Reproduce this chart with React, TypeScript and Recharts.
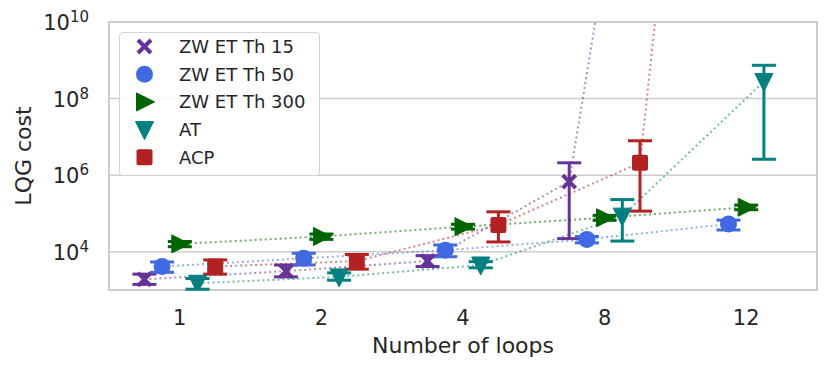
import {
  LineChart,
  Line,
  XAxis,
  YAxis,
  CartesianGrid,
  ErrorBar,
  ReferenceArea,
  Legend,
} from 'recharts'

const categories = ['1', '2', '4', '8', '12']

// mean, lower and upper bound per loop count
const zw15 = [1.9e3, 3.1e3, 5.7e3, 6.8e5, 3e28]
const zw15Low = [1.4e3, 2.2e3, 4.1e3, 2.2e4, 3e28]
const zw15High = [2.6e3, 4.5e3, 7.9e3, 2.1e6, 3e28]

const zw50 = [4.1e3, 6.7e3, 1.1e4, 2.1e4, 5.3e4]
const zw50Low = [2.9e3, 4.5e3, 7.4e3, 1.7e4, 3.7e4]
const zw50High = [5.4e3, 9.1e3, 1.5e4, 2.5e4, 6.7e4]

const zw300 = [1.6e4, 2.5e4, 4.5e4, 7.7e4, 1.45e5]
const zw300Low = [1.35e4, 2.1e4, 3.9e4, 6.6e4, 1.25e5]
const zw300High = [1.85e4, 2.9e4, 5.2e4, 8.9e4, 1.65e5]

const at = [1.5e3, 2.2e3, 4.5e3, 8.5e4, 2.8e8]
const atLow = [1.05e3, 1.8e3, 3.8e3, 1.9e4, 2.6e6]
const atHigh = [2.0e3, 2.8e3, 5.5e3, 2.3e5, 7.4e8]

const acp = [4.1e3, 5.7e3, 5e4, 2.1e6, 1e41]
const acpLow = [2.6e3, 3.5e3, 1.8e4, 1.15e5, 1e41]
const acpHigh = [6.1e3, 8.5e3, 1.1e5, 7.9e6, 1e41]

const yTicks = [1e4, 1e6, 1e8, 1e10]

const FONT = '"DejaVu Sans", sans-serif'
const TEXT = '#262626'
const DODGE = 0.125

const rows = (vals: number[], lows: number[], highs: number[], slot: number) =>
  vals.map((v, i) => ({
    x: i + (slot - 2) * DODGE,
    y: v,
    err: [v - lows[i], highs[i] - v],
  }))

const series = [
  { name: 'ZW ET Th 15', kind: 'x', color: '#663399', data: rows(zw15, zw15Low, zw15High, 0) },
  { name: 'ZW ET Th 50', kind: 'o', color: '#4169e1', data: rows(zw50, zw50Low, zw50High, 1) },
  { name: 'ZW ET Th 300', kind: '>', color: '#006400', data: rows(zw300, zw300Low, zw300High, 2) },
  { name: 'AT', kind: 'v', color: '#008080', data: rows(at, atLow, atHigh, 3) },
  { name: 'ACP', kind: 's', color: '#b22222', data: rows(acp, acpLow, acpHigh, 4) },
]

function Marker({ kind, cx, cy, color }: any) {
  if (cx == null || cy == null || !isFinite(cy)) return null
  if (kind === 'x')
    return (
      <g stroke={color} strokeWidth={4}>
        <line x1={cx - 6.5} y1={cy - 6.5} x2={cx + 6.5} y2={cy + 6.5} />
        <line x1={cx - 6.5} y1={cy + 6.5} x2={cx + 6.5} y2={cy - 6.5} />
      </g>
    )
  if (kind === 'o') return <circle cx={cx} cy={cy} r={8.5} fill={color} />
  if (kind === '>')
    return (
      <polygon
        points={`${cx - 8},${cy - 9} ${cx + 10},${cy} ${cx - 8},${cy + 9}`}
        fill={color}
        stroke={color}
        strokeLinejoin="round"
      />
    )
  if (kind === 'v')
    return (
      <polygon
        points={`${cx - 9},${cy - 8} ${cx + 9},${cy - 8} ${cx},${cy + 10}`}
        fill={color}
        stroke={color}
        strokeLinejoin="round"
      />
    )
  return <rect x={cx - 8} y={cy - 8} width={16} height={16} rx={2} fill={color} />
}

function PowTick({ x, y, payload }: any) {
  const exp = Math.round(Math.log10(payload.value))
  return (
    <text x={x} y={y} textAnchor="end" fill={TEXT} fontSize={21} fontFamily={FONT}>
      <tspan dy={8}>10</tspan>
      <tspan dy={-8} fontSize={15}>
        {exp}
      </tspan>
    </text>
  )
}

const YLabel = () => (
  <text
    transform="translate(31,156) rotate(-90)"
    textAnchor="middle"
    fontSize={22}
    fill={TEXT}
    fontFamily={FONT}
  >
    LQG cost
  </text>
)

function LegendBox() {
  return (
    <div
      style={{
        width: 201,
        height: 144,
        boxSizing: 'border-box',
        border: '1.5px solid #d4d4d4',
        borderRadius: 4,
        background: 'rgba(255,255,255,0.85)',
      }}
    >
      <svg width={198} height={141} style={{ display: 'block' }}>
        {series.map((s, i) => (
          <g key={s.name}>
            <Marker kind={s.kind} cx={24.5} cy={13.5 + i * 27.7} color={s.color} />
            <text
              x={59}
              y={13.5 + i * 27.7}
              dy={6.5}
              fontSize={18}
              fill={TEXT}
              fontFamily={FONT}
            >
              {s.name}
            </text>
          </g>
        ))}
      </svg>
    </div>
  )
}

export default function App() {
  return (
    <div style={{ position: 'absolute', left: 0, top: 0, fontFamily: FONT }}>
      <LineChart width={831} height={372} margin={{ top: 22, right: 14, left: 0, bottom: 0 }}>
        <CartesianGrid vertical={false} stroke="#cccccc" strokeWidth={1.5} />
        <ReferenceArea
          x1={-0.5}
          x2={4.5}
          y1={1e3}
          y2={1e10}
          fill="none"
          stroke="#cccccc"
          strokeWidth={2}
          ifOverflow="visible"
        />
        <XAxis
          dataKey="x"
          type="number"
          domain={[-0.5, 4.5]}
          ticks={[0, 1, 2, 3, 4]}
          interval={0}
          allowDataOverflow
          tickFormatter={(v: number) => categories[v]}
          axisLine={false}
          tickLine={false}
          tickSize={0}
          tickMargin={20}
          height={82}
          tick={{ fontSize: 21, fill: TEXT, fontFamily: FONT }}
          label={{
            value: 'Number of loops',
            position: 'insideBottom',
            offset: 19,
            fontSize: 22,
            fill: TEXT,
            fontFamily: FONT,
          }}
        />
        <YAxis
          scale="log"
          domain={[1e3, 1e10]}
          ticks={yTicks}
          allowDataOverflow
          axisLine={false}
          tickLine={false}
          tickSize={0}
          tickMargin={20}
          width={109}
          tick={<PowTick />}
          label={<YLabel />}
        />
        <Legend
          layout="vertical"
          align="center"
          verticalAlign="middle"
          wrapperStyle={{ left: 119, top: 32, width: 201, height: 144 }}
          content={() => <LegendBox />}
        />
        {series.map((s) => (
          <Line
            key={s.name}
            data={s.data}
            dataKey="y"
            name={s.name}
            type="linear"
            stroke={s.color}
            strokeOpacity={0.55}
            strokeWidth={2}
            strokeDasharray="2 3"
            isAnimationActive={false}
            activeDot={false}
            dot={(p: any) => (
              <Marker key={`${s.name}-${p.index}`} kind={s.kind} cx={p.cx} cy={p.cy} color={s.color} />
            )}
          >
            <ErrorBar dataKey="err" direction="y" width={12} stroke={s.color} strokeWidth={3} />
          </Line>
        ))}
      </LineChart>
    </div>
  )
}
